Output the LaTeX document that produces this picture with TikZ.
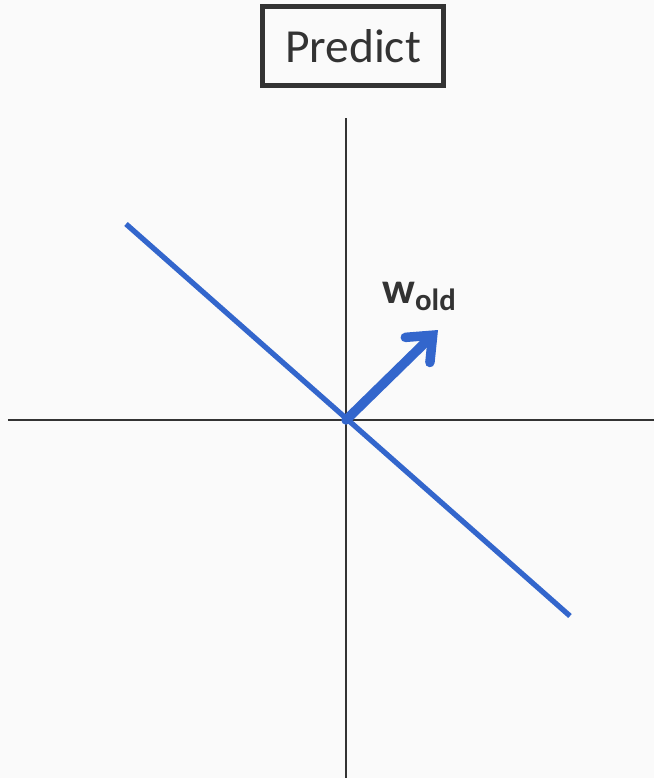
\documentclass[tikz,border=0pt]{standalone}
\usepackage{fontspec}
\setmainfont{Carlito}
\usetikzlibrary{arrows.meta}
\definecolor{bgcol}{HTML}{FAFAFA}
\definecolor{axiscol}{HTML}{333333}
\definecolor{wblue}{HTML}{3366CC}
\begin{document}
\begin{tikzpicture}[x=0.01cm, y=-0.01cm]
\fill[bgcol] (0,0) rectangle (654,778);
\useasboundingbox (0,0) rectangle (654,778);
\node[draw=axiscol, line width=1.4pt, inner sep=0pt, minimum width=1.8cm, minimum height=0.79cm, font=\fontsize{13.5}{15}\selectfont, text=axiscol] (predict) at (353,46) {Predict};
\coordinate (o) at (346,420);
\coordinate (xl) at (8,420);
\coordinate (xr) at (654,420);
\coordinate (yt) at (346,118);
\coordinate (yb) at (346,778);
\coordinate (bl) at (126,224);
\coordinate (br) at (570,616);
\coordinate (w) at (438,330);
\draw[axiscol, line width=0.6pt] (xl) -- (xr);
\draw[axiscol, line width=0.6pt] (yt) -- (yb);
\draw[wblue, line width=1.5pt] (bl) -- (br);
\draw[wblue, line width=2.7pt, line cap=round, -{Straight Barb[length=6pt, width=10pt, line cap=round]}] (o) -- (w);
\node[text=axiscol, font=\fontsize{12.5}{14}\selectfont] (wlabel) at (420,296) {\textbf{w}\textsubscript{\textbf{old}}};
\end{tikzpicture}
\end{document}
